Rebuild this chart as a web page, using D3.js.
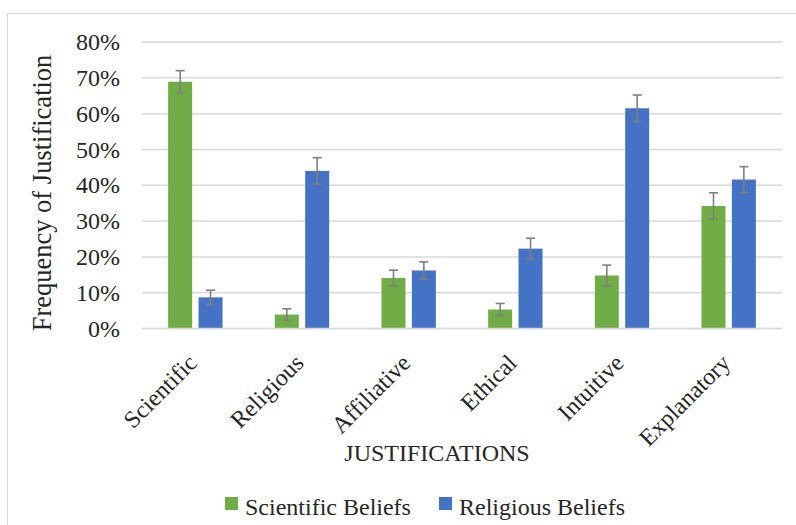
<!DOCTYPE html>
<html>
<head>
<meta charset="utf-8">
<script src="https://cdn.jsdelivr.net/npm/d3@7"></script>
<style>
  html, body { margin: 0; padding: 0; background: #ffffff; }
  svg { display: block; }
  text { font-family: "Liberation Serif", "Times New Roman", serif; fill: #262626; }
</style>
</head>
<body>
<svg id="chart" width="796" height="525"></svg>
<script>
// Justification categories and frequencies (percent)
const categories = ["Scientific", "Religious", "Affiliative", "Ethical", "Intuitive", "Explanatory"];
const seriesNames = ["Scientific Beliefs", "Religious Beliefs"];
const scientificValues = [68.9, 3.9, 14.1, 5.3, 14.8, 34.2];
const religiousValues = [8.7, 44.0, 16.2, 22.3, 61.5, 41.6];
const scientificErrors = [3.1, 1.6, 2.2, 1.7, 2.9, 3.7];
const religiousErrors = [2.0, 3.7, 2.4, 2.9, 3.7, 3.6];
const yTicks = [0, 10, 20, 30, 40, 50, 60, 70, 80];

const colors = { "Scientific Beliefs": "#70AD47", "Religious Beliefs": "#4472C4" };

const svg = d3.select("#chart");

// chart frame
svg.append("rect")
  .attr("x", 7.5).attr("y", 13.5)
  .attr("width", 800).attr("height", 530)
  .attr("fill", "none").attr("stroke", "#d9d9d9").attr("stroke-width", 1);

const plot = { left: 142, right: 782, top: 42, bottom: 328.5 };

const y = d3.scaleLinear().domain([0, 80]).range([plot.bottom, plot.top]);
const x0 = d3.scaleBand().domain(categories).range([plot.left, plot.right])
  .paddingInner(0.49).paddingOuter(0.245);
const x1 = d3.scaleBand().domain(seriesNames).range([0, x0.bandwidth()])
  .paddingInner(0.21).paddingOuter(0);

// gridlines
svg.append("g")
  .selectAll("line")
  .data(yTicks)
  .join("line")
  .attr("x1", plot.left).attr("x2", plot.right)
  .attr("y1", d => y(d)).attr("y2", d => y(d))
  .attr("stroke", "#d9d9d9").attr("stroke-width", 1.5);

// y tick labels
svg.append("g")
  .selectAll("text")
  .data(yTicks)
  .join("text")
  .attr("x", 120).attr("y", d => y(d))
  .attr("dy", "0.34em")
  .attr("text-anchor", "end")
  .attr("font-size", 24)
  .text(d => d + "%");

// y axis title
svg.append("text")
  .attr("transform", `translate(51,193) rotate(-90)`)
  .attr("text-anchor", "middle")
  .attr("font-size", 26.5)
  .text("Frequency of Justification");

// rows per category
const rows = categories.map((c, i) => ({
  category: c,
  bars: [
    { series: seriesNames[0], value: scientificValues[i], err: scientificErrors[i] },
    { series: seriesNames[1], value: religiousValues[i], err: religiousErrors[i] }
  ]
}));

const groups = svg.append("g")
  .selectAll("g")
  .data(rows)
  .join("g")
  .attr("transform", d => `translate(${x0(d.category)},0)`);

groups.selectAll("rect")
  .data(d => d.bars)
  .join("rect")
  .attr("x", d => x1(d.series))
  .attr("y", d => y(d.value))
  .attr("width", x1.bandwidth())
  .attr("height", d => y(0) - y(d.value))
  .attr("fill", d => colors[d.series]);

// error bars
const eb = groups.selectAll("g.err")
  .data(d => d.bars)
  .join("g")
  .attr("class", "err")
  .attr("stroke", "#7f7f7f")
  .attr("stroke-width", 1.6);

eb.append("line")
  .attr("x1", d => x1(d.series) + x1.bandwidth() / 2)
  .attr("x2", d => x1(d.series) + x1.bandwidth() / 2)
  .attr("y1", d => y(d.value + d.err))
  .attr("y2", d => y(d.value - d.err));
eb.append("line")
  .attr("x1", d => x1(d.series) + x1.bandwidth() / 2 - 4.5)
  .attr("x2", d => x1(d.series) + x1.bandwidth() / 2 + 4.5)
  .attr("y1", d => y(d.value + d.err))
  .attr("y2", d => y(d.value + d.err));
eb.append("line")
  .attr("x1", d => x1(d.series) + x1.bandwidth() / 2 - 4.5)
  .attr("x2", d => x1(d.series) + x1.bandwidth() / 2 + 4.5)
  .attr("y1", d => y(d.value - d.err))
  .attr("y2", d => y(d.value - d.err));

// baseline
svg.append("line")
  .attr("x1", plot.left).attr("x2", plot.right)
  .attr("y1", y(0)).attr("y2", y(0))
  .attr("stroke", "#d9d9d9").attr("stroke-width", 1.5);

// category labels
svg.append("g")
  .selectAll("text")
  .data(categories)
  .join("text")
  .attr("transform", d => `translate(${x0(d) + x0.bandwidth() / 2 + 3},${plot.bottom + 36}) rotate(-45)`)
  .attr("text-anchor", "end")
  .attr("font-size", 24)
  .text(d => d);

// x axis title
svg.append("text")
  .attr("x", 437).attr("y", 461)
  .attr("text-anchor", "middle")
  .attr("font-size", 24)
  .text("JUSTIFICATIONS");

// legend
const legendX = [225, 439];
const legend = svg.append("g")
  .selectAll("g")
  .data(seriesNames)
  .join("g")
  .attr("transform", (d, i) => `translate(${legendX[i]},497)`);
legend.append("rect")
  .attr("width", 13).attr("height", 13)
  .attr("fill", d => colors[d]);
legend.append("text")
  .attr("x", 20).attr("y", 18)
  .attr("font-size", 24)
  .text(d => d);
</script>
</body>
</html>
